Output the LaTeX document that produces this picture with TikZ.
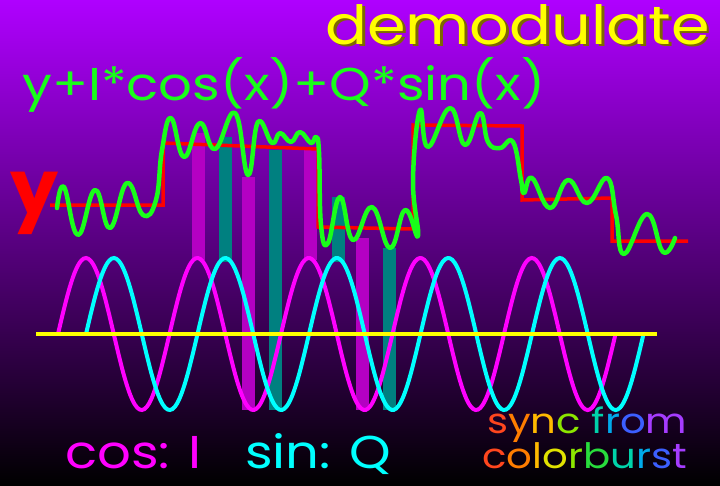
\documentclass[tikz,border=0pt]{standalone}
\usepackage{fontspec}
\setmainfont{Poppins}
\definecolor{bgTop}{RGB}{175,0,255}
\definecolor{bgMid}{RGB}{98,0,155}
\definecolor{sigGreen}{RGB}{25,255,25}
\definecolor{stepRed}{RGB}{255,0,0}
\definecolor{cosMag}{RGB}{255,0,255}
\definecolor{sinCyan}{RGB}{0,255,255}
\definecolor{barMag}{RGB}{180,0,195}
\definecolor{barTeal}{RGB}{0,128,128}
\definecolor{axisYellow}{RGB}{255,255,0}
\definecolor{titleShadow}{RGB}{125,105,0}
% rainbow for the colorburst label
\definecolor{rbA}{RGB}{255,70,30}
\definecolor{rbB}{RGB}{255,125,0}
\definecolor{rbC}{RGB}{255,185,0}
\definecolor{rbD}{RGB}{225,225,0}
\definecolor{rbE}{RGB}{140,230,0}
\definecolor{rbF}{RGB}{40,220,60}
\definecolor{rbG}{RGB}{0,210,170}
\definecolor{rbH}{RGB}{0,170,235}
\definecolor{rbI}{RGB}{60,95,255}
\definecolor{rbJ}{RGB}{165,60,255}
\newcommand\shadowed[1]{\rlap{\kern2.5pt\raisebox{-2.5pt}{\color{titleShadow}#1}}#1}
\tikzset{
  txt/.style={inner sep=0pt, anchor=base west, xscale=1.15},
  barI/.style={fill=barMag},
  barQ/.style={fill=barTeal},
  stepline/.style={draw=stepRed, line width=3.5pt},
  signal/.style={draw=sigGreen, line width=4.5pt, line cap=round, line join=round},
  wave/.style={line width=4pt, samples=240, smooth, line cap=round},
  zeroline/.style={draw=axisYellow, line width=4pt}
}

\begin{document}
\begin{tikzpicture}[x=1pt, y=-1pt]
\useasboundingbox (0,0) rectangle (720,485);
\shade[top color=bgTop, middle color=bgMid, bottom color=black] (0,0) rectangle (720,485);

% sampled values
\fill[barI] (192,133) rectangle (205,260);
\fill[barQ] (219,137) rectangle (232,262);
\fill[barI] (242,177) rectangle (255,410);
\fill[barQ] (269,150) rectangle (282,410);
\fill[barI] (304,150) rectangle (317,260);
\fill[barQ] (332,197) rectangle (345,262);
\fill[barI] (356,238) rectangle (369,410);
\fill[barQ] (383,248) rectangle (396,410);

% luma steps
\draw[stepline] (50,205) -- (163,205) -- (163,143) -- (318,149) -- (318,227) -- (413,229)
  -- (413,125) -- (522,126) -- (522,200) -- (612,198) -- (612,241) -- (688,241);

% composite signal
\draw[signal] plot[smooth, tension=0.75] coordinates {
  (57,208) (64,187) (78,235) (95,190) (110,228) (127,183) (143,215) (156,200)
  (162,150) (171,118) (184,157) (200,123) (215,149) (235,113) (248,175) (258,122)
  (272,143) (280,133) (291,142) (300,132) (311,143) (316,137) (319,152) (321,225)
  (328,243) (340,197) (353,240) (372,207) (390,248) (405,210) (418,236) (413,180)
  (420,110) (428,147) (450,108) (465,145) (480,113) (488,142) (500,148) (513,142)
  (521,180) (524,193) (532,178) (550,208) (568,180) (587,203) (607,178) (616,215)
  (624,254) (647,214) (663,252) (675,238)};

% subcarrier
\draw[wave, draw=cosMag] plot[domain=58:615.5] (\x, {334-76*sin(360*((\x-58)/111.5))});
\draw[wave, draw=sinCyan] plot[domain=86:643.5] (\x, {334-76*sin(360*((\x-86)/111.5))});
\draw[zeroline] (36,334) -- (657,334);

% labels
\node[txt, text=axisYellow, font=\fontsize{54}{60}\selectfont] (title) at (325,44) {\shadowed{demodulate}};
\node[txt, text=sigGreen, font=\fontsize{46}{52}\selectfont] (formula) at (22,100) {y+I*cos(x)+Q*sin(x)};
\node[txt, text=stepRed, font=\bfseries\fontsize{76}{80}\selectfont, xscale=0.87] (ylabel) at (10,214) {y};
\node[txt, text=cosMag, font=\fontsize{46}{52}\selectfont] (coslabel) at (65,468) {cos: I};
\node[txt, text=sinCyan, font=\fontsize{46}{52}\selectfont] (sinlabel) at (245,468) {sin: Q};
\node[txt, font=\fontsize{35}{40}\selectfont] (sync) at (487,433)
  {\color{rbA}s\color{rbB}y\color{rbC}n\color{rbE}c \color{rbG}f\color{rbH}r\color{rbI}o\color{rbJ}m};
\node[txt, font=\fontsize{35}{40}\selectfont] (burst) at (482,468)
  {\color{rbA}c\color{rbB}o\color{rbC}l\color{rbD}o\color{rbE}r\color{rbF}b\color{rbG}u\color{rbH}r\color{rbI}s\color{rbJ}t};
\end{tikzpicture}
\end{document}
